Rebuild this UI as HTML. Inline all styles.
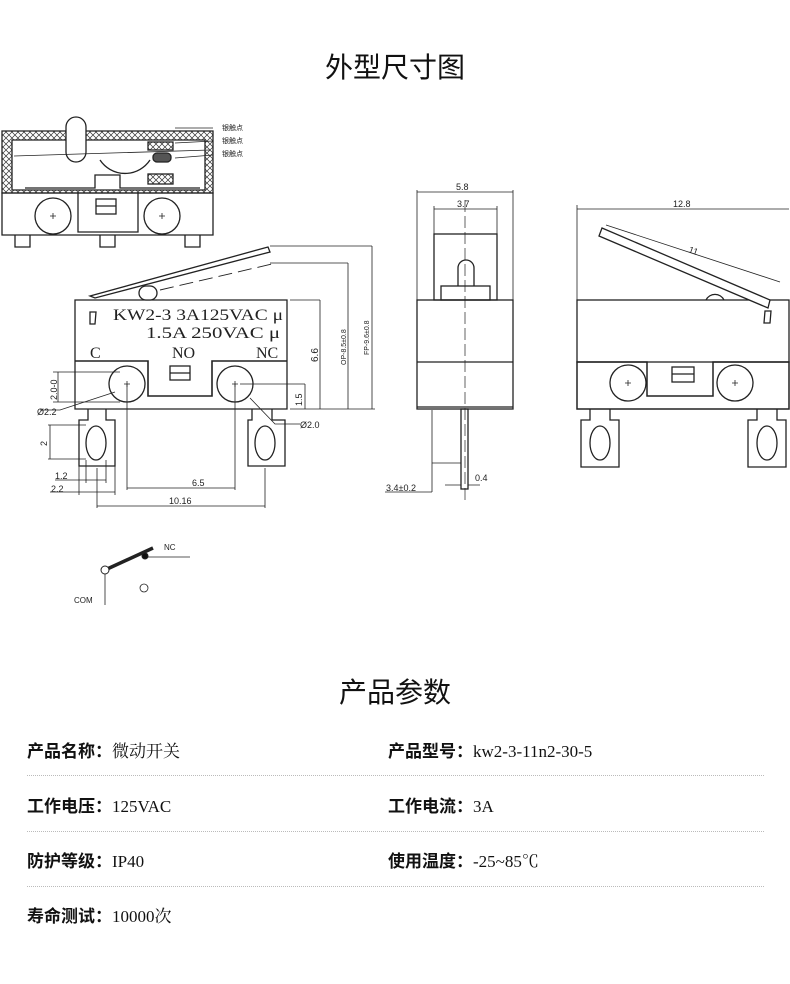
<!DOCTYPE html>
<html><head><meta charset="utf-8"><style>
html,body{margin:0;padding:0;background:#fff;}
body{width:790px;height:984px;position:relative;overflow:hidden;font-family:"Liberation Sans","Noto Sans CJK SC",sans-serif;color:#111;}
.t{position:absolute;white-space:nowrap;}
.h{font-size:28px;left:0;width:790px;text-align:center;}
.r{font-size:17px;font-family:"Liberation Serif","Noto Serif CJK SC",serif;}
.r b{font-family:"Liberation Sans","Noto Sans CJK SC",sans-serif;font-weight:bold;}
.dl{position:absolute;left:27px;width:737px;border-top:1px dotted #bbb;height:0;}
svg{position:absolute;left:0;top:0;}
svg text{font-family:"Liberation Sans",sans-serif;fill:#222;}
</style></head><body>
<div class="t h" style="top:46px;">外型尺寸图</div>
<div class="t h" style="top:671px;">产品参数</div>

<div class="t r" style="left:27px;top:737px;"><b>产品名称：</b>微动开关</div>
<div class="t r" style="left:388px;top:737px;"><b>产品型号：</b>kw2-3-11n2-30-5</div>
<div class="dl" style="top:775px;"></div>
<div class="t r" style="left:27px;top:792px;"><b>工作电压：</b>125VAC</div>
<div class="t r" style="left:388px;top:792px;"><b>工作电流：</b>3A</div>
<div class="dl" style="top:831px;"></div>
<div class="t r" style="left:27px;top:847px;"><b>防护等级：</b>IP40</div>
<div class="t r" style="left:388px;top:847px;"><b>使用温度：</b>-25~85℃</div>
<div class="dl" style="top:886px;"></div>
<div class="t r" style="left:27px;top:902px;"><b>寿命测试：</b>10000次</div>

<svg width="790" height="984" viewBox="0 0 790 984">
<defs>
<pattern id="x" width="6" height="6" patternUnits="userSpaceOnUse"><path d="M0 0L6 6M6 0L0 6" stroke="#333" stroke-width="0.7"/></pattern>
</defs>
<g fill="none" stroke="#222" stroke-width="1.3">
<path d="M2 131H213V193H2Z" fill="url(#x)"/>
<path d="M12 140H205V190H12Z" fill="#fff"/>
<rect x="66" y="117" width="20" height="45" rx="10" fill="#fff"/>
<path d="M14 156L210 150" stroke-width="0.8"/>
<path d="M100 160A30 30 0 0 0 150 160" />
<rect x="148" y="142" width="25" height="8" fill="url(#x)"/>
<rect x="153" y="153" width="18" height="9" rx="4" fill="#555"/>
<rect x="148" y="174" width="25" height="10" fill="url(#x)"/>
<path d="M25 188H95V175H120V188H200" />
<path d="M175 128L213 128M175 143L213 141M175 158L213 155" stroke-width="0.7"/>
<path d="M2 193H213V235H2Z"/>
<path d="M78 193V232H138V193"/>
<circle cx="53" cy="216" r="18"/><circle cx="162" cy="216" r="18"/>
<rect x="96" y="199" width="20" height="15"/><line x1="96" y1="206" x2="116" y2="206"/>
<path d="M15 235V247H30V235M100 235V247H115V235M185 235V247H200V235"/>
<path d="M50 216h6M53 213v6M159 216h6M162 213v6" stroke-width="0.8"/>

<path d="M75 300H287V409H75Z"/>
<path d="M75 361H148V396H212V361H287" stroke-width="1.6"/>
<path d="M90 296L268 247L270 252L95 298Z" fill="#fff"/>
<path d="M160 290L272 264" stroke-dasharray="14 6" stroke-width="0.9"/>
<rect x="139" y="286" width="18" height="14" rx="7" fill="#fff"/>
<circle cx="127" cy="384" r="18"/><circle cx="235" cy="384" r="18"/>
<path d="M124 384h6M127 381v6M232 384h6M235 381v6" stroke-width="0.8"/>
<rect x="170" y="366" width="20" height="14"/><line x1="170" y1="373" x2="190" y2="373"/>
<path d="M90 312h6l-1 12h-5z"/>
<path d="M88 409V420H79V466H115V420H106V409"/>
<path d="M252 409V420H248V466H285V420H272V409"/>
<ellipse cx="96" cy="443" rx="10" ry="17"/><ellipse cx="265" cy="443" rx="10" ry="17"/>
<g stroke-width="0.8">
<path d="M290 300H320M320 300V409M290 409H375M270 263H348M348 263V409M270 246H372M372 246V409"/>
<path d="M240 384H305M305 384V409"/>
<path d="M53 372H120M53 402H120M58 372V402"/>
<path d="M127 384V490M235 384V490M127 488H235"/>
<path d="M97 468V508M265 468V508M97 506H265"/>
<path d="M86 425H48M86 459H48M50 425V459"/>
<path d="M79 460V495M115 460V495M86 460V483M106 460V483M55 480H106M50 492H115"/>
<path d="M40 410H60L115 392M300 424L275 424L250 398"/>
</g>
</g>
<g fill="#222">
<text x="113" y="320" font-size="16" textLength="170" lengthAdjust="spacingAndGlyphs" style="font-family:'Liberation Serif',serif">KW2-3  3A125VAC μ</text>
<text x="146" y="338" font-size="16" textLength="134" lengthAdjust="spacingAndGlyphs" style="font-family:'Liberation Serif',serif">1.5A  250VAC μ</text>
<text x="90" y="358" font-size="16" style="font-family:'Liberation Serif',serif">C</text>
<text x="172" y="358" font-size="16" style="font-family:'Liberation Serif',serif">NO</text>
<text x="256" y="358" font-size="16" style="font-family:'Liberation Serif',serif">NC</text>
</g>
<g font-size="9">
<text x="318" y="362" transform="rotate(-90 318 362)" font-size="10">6.6</text>
<text x="346" y="365" transform="rotate(-90 346 365)" font-size="7">OP-8.5±0.8</text>
<text x="369" y="355" transform="rotate(-90 369 355)" font-size="7">FP-9.6±0.8</text>
<text x="302" y="406" transform="rotate(-90 302 406)">1.5</text>
<text x="57" y="400" transform="rotate(-90 57 400)">2.0-0</text>
<text x="47" y="446" transform="rotate(-90 47 446)">2</text>
<text x="37" y="415">Ø2.2</text>
<text x="300" y="428">Ø2.0</text>
<text x="55" y="479">1.2</text>
<text x="51" y="492">2.2</text>
<text x="192" y="486">6.5</text>
<text x="169" y="504">10.16</text>
<text x="222" y="130" font-size="7">银触点</text>
<text x="222" y="143" font-size="7">银触点</text>
<text x="222" y="156" font-size="7">银触点</text>
</g>

<g fill="none" stroke="#222" stroke-width="1.3">
<rect x="417" y="300" width="96" height="109"/>
<line x1="417" y1="362" x2="513" y2="362"/>
<line x1="417" y1="407" x2="513" y2="407"/>
<rect x="434" y="234" width="63" height="66"/>
<rect x="441" y="286" width="49" height="14"/>
<path d="M458 286V268A8 8 0 0 1 474 268V286"/>
<rect x="461" y="409" width="7" height="80"/>
<path d="M465 200V500" stroke-dasharray="12 4" stroke-width="0.7"/>
<g stroke-width="0.8">
<path d="M417 190V300M513 190V300M417 192H513M434 206V234M497 206V234M434 209H497"/>
<path d="M432 410V492M385 492H432M432 463H461M445 485H461M468 485H480"/>
</g>
</g>
<g font-size="9"><text x="456" y="190">5.8</text><text x="457" y="207">3.7</text><text x="386" y="491">3.4±0.2</text><text x="475" y="481">0.4</text></g>

<g fill="none" stroke="#222" stroke-width="1.3">
<rect x="577" y="300" width="212" height="62"/>
<path d="M577 362H647V396H713V362H789V409H577Z" stroke-width="1.5"/>
<path d="M602 228L770 300L768 308L599 236Z" fill="#fff"/>
<path d="M706 300A10 10 0 0 1 724 300"/>
<path d="M765 311h6l-1 12h-6z"/>
<circle cx="628" cy="383" r="18"/><circle cx="735" cy="383" r="18"/>
<path d="M625 383h6M628 380v6M732 383h6M735 380v6" stroke-width="0.8"/>
<rect x="672" y="367" width="22" height="15"/><line x1="672" y1="374" x2="694" y2="374"/>
<path d="M590 409V420H581V467H619V420H610V409"/>
<path d="M757 409V420H748V467H786V420H777V409"/>
<ellipse cx="600" cy="443" rx="10" ry="17"/><ellipse cx="767" cy="443" rx="10" ry="17"/>
<g stroke-width="0.8"><path d="M577 205V300M577 209H789M606 225L780 282"/></g>
</g>
<g font-size="9"><text x="673" y="207">12.8</text><text x="688" y="252" transform="rotate(20 688 252)">11</text></g>

<g stroke="#222" fill="none">
<line x1="105" y1="570" x2="153" y2="548" stroke-width="3.5"/>
<circle cx="105" cy="570" r="4" fill="#fff" stroke-width="1"/>
<line x1="105" y1="574" x2="105" y2="605" stroke-width="0.8"/>
<line x1="148" y1="557" x2="190" y2="557" stroke-width="0.8"/>
<circle cx="145" cy="556" r="3" fill="#111"/>
<circle cx="144" cy="588" r="4" stroke-width="0.8"/>
</g>
<g font-size="8" style="font-family:'Liberation Serif',serif"><text x="164" y="550">NC</text><text x="74" y="603">COM</text></g>
</svg>
</body></html>
